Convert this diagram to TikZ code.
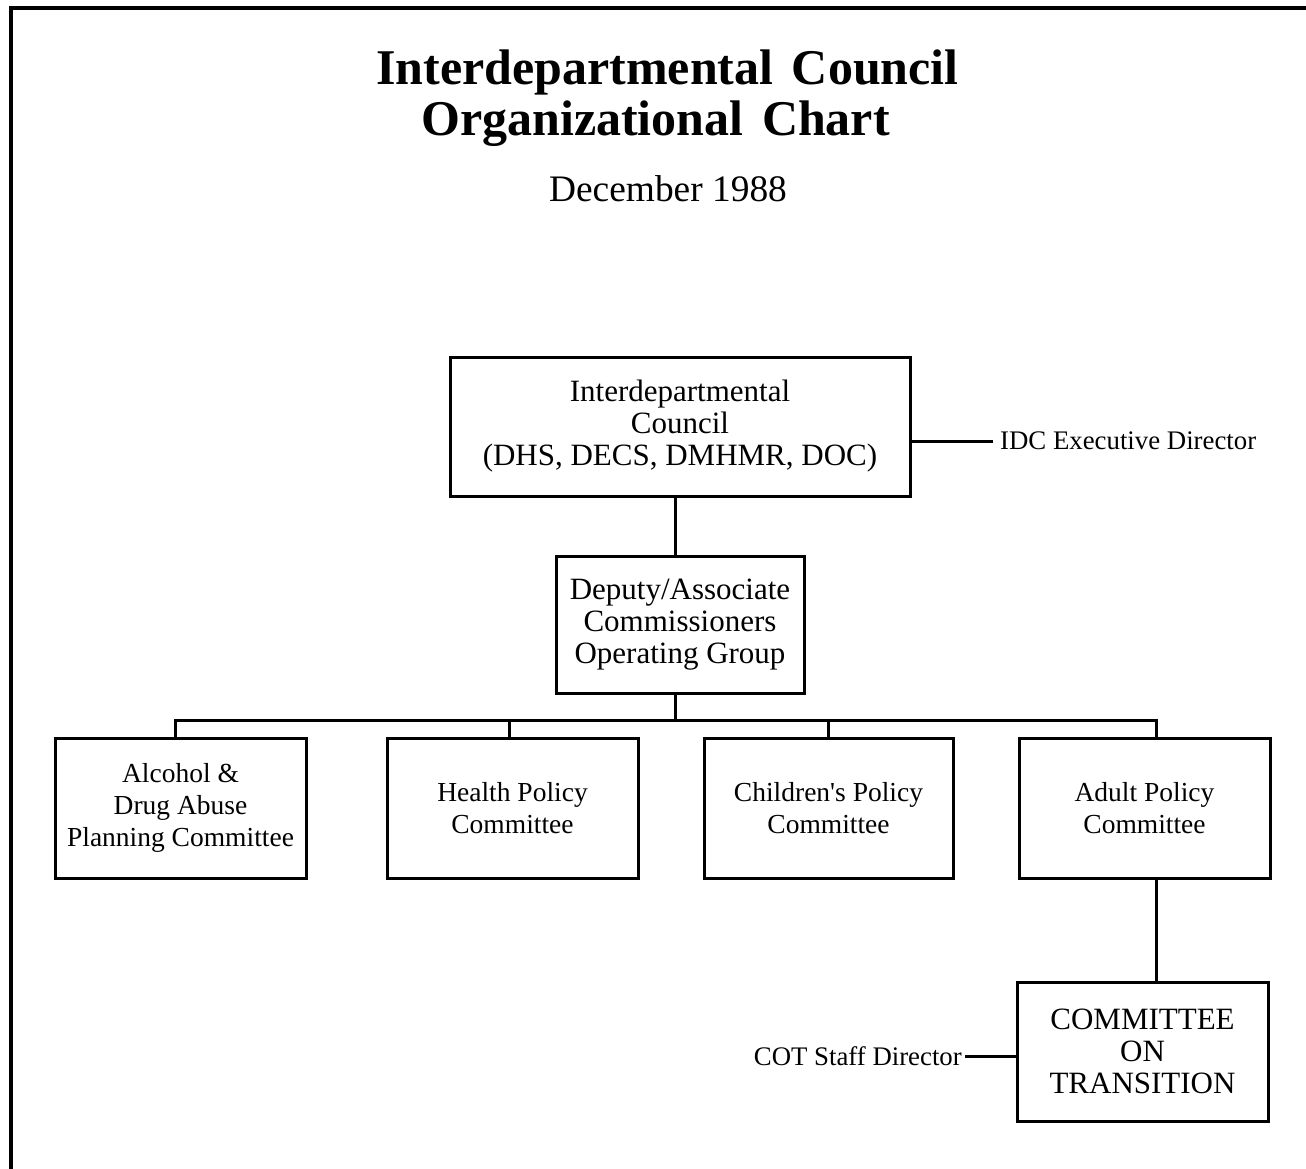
\documentclass[tikz,border=0pt]{standalone}
\usepackage{fontspec}
\setmainfont{Liberation Serif}
\newfontfamily\plainserif{Liberation Serif}[Ligatures=TeXOff]
\begin{document}
\begin{tikzpicture}[x=1pt,y=-1pt,
  box/.style={draw,line width=3pt,inner sep=0pt,align=center},
  bigtext/.style={font=\fontsize{31}{32}\selectfont},
  smalltext/.style={font=\fontsize{27.5}{32}\selectfont},
  labeltext/.style={font=\fontsize{26.8}{32}\selectfont,inner sep=0pt},
  link/.style={line width=3pt}]
\useasboundingbox (0,0) rectangle (1306,1169);
\fill[white] (0,0) rectangle (1306,1169);
% frame (top and left edges of scanned page)
\draw[line width=4pt] (1306,8) -- (11,8) -- (11,1169);
% titles
\node[anchor=base,font=\fontsize{50}{51}\bfseries,inner sep=0pt] (title1) at (667.5,85) {Interdepartmental\hspace{6pt} Council};
\node[anchor=base,font=\fontsize{50}{51}\bfseries,inner sep=0pt] (title2) at (655.5,136) {Organizational\hspace{6pt} Chart};
\node[anchor=base,font=\fontsize{37.4}{40}\selectfont,inner sep=0pt] (date) at (668,202) {December 1988};
% boxes
\node[box,bigtext,minimum width=460,minimum height=139] (idc) at (680,426.5) {Interdepartmental\\Council\\(DHS, DECS, DMHMR, DOC)};
\node[box,bigtext,minimum width=248,minimum height=137] (dep) at (680,624.5) {Deputy/Associate\\Commissioners\\Operating Group};
\node[box,smalltext,minimum width=251,minimum height=140] (b1) at (180.5,808) {Alcohol \&\\Drug Abuse\\Planning Committee};
\node[box,smalltext,minimum width=251,minimum height=140] (b2) at (512.5,808) {Health Policy\\Committee};
\node[box,font=\plainserif\fontsize{27.5}{32}\selectfont,minimum width=249,minimum height=140] (b3) at (828.5,808) {Children's Policy\\Committee};
\node[box,smalltext,minimum width=251,minimum height=140] (b4) at (1144.5,808) {Adult Policy\\Committee};
\node[box,bigtext,minimum width=251,minimum height=139] (cot) at (1142.5,1051.5) {COMMITTEE\\ON\\TRANSITION};
% side labels
\node[labeltext,anchor=west,inner xsep=7pt] (idcdir) at (993,441) {IDC Executive Director};
\node[labeltext,anchor=east,inner xsep=3pt] (cotdir) at (965,1056) {COT Staff Director};
% bus coordinates
\coordinate (top) at (675,720);
\coordinate (k1) at (175,720);
\coordinate (k2) at (509,720);
\coordinate (k3) at (828,720);
\coordinate (k4) at (1156,720);
% connectors
\draw[link] (idcdir.west -| idc.east) -- (idcdir.west);
\draw[link] (top |- idc.south) -- (top |- dep.north);
\draw[link] (top |- dep.south) -- (top);
\draw[link] (k1 |- b1.north) -- (k1) -- (k4) -- (k4 |- b4.north);
\draw[link] (k2) -- (k2 |- b2.north);
\draw[link] (k3) -- (k3 |- b3.north);
\draw[link] (k4 |- b4.south) -- (k4 |- cot.north);
\draw[link] (cotdir.east) -- (cotdir.east -| cot.west);
\end{tikzpicture}
\end{document}
